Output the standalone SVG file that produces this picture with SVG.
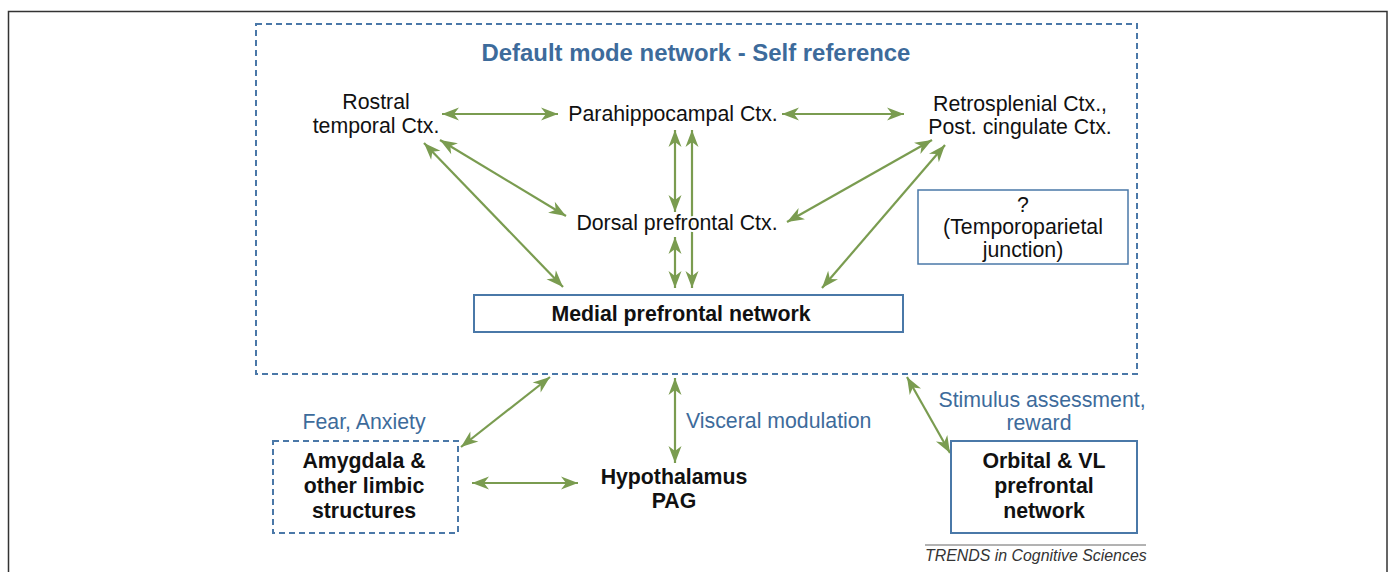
<svg xmlns="http://www.w3.org/2000/svg" width="1392" height="572" viewBox="0 0 1392 572">
<style>
  text { font-family: "Liberation Sans", Arial, Helvetica, sans-serif; font-size: 21.3px; fill: #111; }
  .c { text-anchor: middle; }
  .b { font-weight: bold; }
  .blue { fill: #3d6b9b; }
  .box { fill: #fff; stroke: #4a78a8; stroke-width: 2; }
  .dbox { fill: none; stroke: #4a78a8; stroke-width: 2; stroke-dasharray: 6 4; }
  .conn line { stroke: #7a9c50; stroke-width: 2.2; fill: none; marker-start: url(#ah); marker-end: url(#ah); }
  .conn line.plain { marker-start: none; marker-end: none; }
</style>
<defs>
  <marker id="ah" viewBox="-18 -8 19 16" refX="0" refY="0" markerWidth="19" markerHeight="16" markerUnits="userSpaceOnUse" orient="auto-start-reverse">
    <path d="M0,0 L-17,-6.5 L-12,0 L-17,6.5 Z" fill="#7a9c50"/>
  </marker>
</defs>
<rect x="0" y="0" width="1392" height="572" fill="#fff"/>
<rect x="8.5" y="11.5" width="1378.5" height="600" fill="none" stroke="#333" stroke-width="1.5"/>

<g id="dmn">
  <rect class="dbox" x="256" y="24" width="881" height="350"/>
  <text class="c b blue" x="696" y="61" style="font-size:23.9px">Default mode network - Self reference</text>
</g>

<g id="connectors" class="conn">
  <line x1="442" y1="114" x2="558" y2="114"/>
  <line x1="782" y1="114" x2="904" y2="114"/>
  <line x1="440" y1="140" x2="566" y2="216"/>
  <line x1="424" y1="143" x2="563" y2="287"/>
  <line x1="675" y1="130" x2="675" y2="212"/>
  <line x1="675" y1="237" x2="675" y2="288"/>
  <line class="plain" x1="692" y1="130" x2="692" y2="288" style="marker-start:url(#ah);marker-end:url(#ah)"/>
  <line x1="932" y1="140" x2="787" y2="222"/>
  <line x1="945" y1="145" x2="822" y2="288"/>
  <line x1="461" y1="447" x2="550" y2="377"/>
  <line x1="472" y1="483" x2="578" y2="483"/>
  <line x1="675" y1="378" x2="675" y2="463"/>
  <line x1="907" y1="377" x2="950" y2="453"/>
</g>

<g id="rostral">
  <text class="c" x="376" y="109">Rostral</text>
  <text class="c" x="376" y="133">temporal Ctx.</text>
</g>
<g id="parahippocampal">
  <text class="c" x="673" y="121">Parahippocampal Ctx.</text>
</g>
<g id="retrosplenial">
  <text class="c" x="1020" y="111">Retrosplenial Ctx.,</text>
  <text class="c" x="1020" y="134">Post. cingulate Ctx.</text>
</g>
<g id="dorsal">
  <text class="c" x="677" y="230" stroke="#fff" stroke-width="4" paint-order="stroke">Dorsal prefrontal Ctx.</text>
</g>
<g id="tpj">
  <rect class="box" x="918" y="190" width="210" height="74" style="stroke-width:1.5"/>
  <text class="c" x="1023" y="212">?</text>
  <text class="c" x="1023" y="234">(Temporoparietal</text>
  <text class="c" x="1023" y="257">junction)</text>
</g>
<g id="medial">
  <rect class="box" x="474" y="295" width="429" height="37"/>
  <text class="c b" x="681" y="321">Medial prefrontal network</text>
</g>
<g id="amygdala">
  <text class="c blue" x="364" y="429">Fear, Anxiety</text>
  <rect class="dbox" x="273" y="441" width="185" height="92"/>
  <text class="c b" x="364" y="468">Amygdala &amp;</text>
  <text class="c b" x="364" y="493">other limbic</text>
  <text class="c b" x="364" y="518">structures</text>
</g>
<g id="hypothalamus">
  <text class="blue" x="686" y="428">Visceral modulation</text>
  <text class="c b" x="674" y="484">Hypothalamus</text>
  <text class="c b" x="674" y="508">PAG</text>
</g>
<g id="orbital">
  <text class="c blue" x="1042" y="407">Stimulus assessment,</text>
  <text class="c blue" x="1039" y="430">reward</text>
  <rect class="box" x="951" y="441" width="186" height="92"/>
  <text class="c b" x="1044" y="468">Orbital &amp; VL</text>
  <text class="c b" x="1044" y="493">prefrontal</text>
  <text class="c b" x="1044" y="518">network</text>
</g>
<g id="credit">
  <line x1="925" y1="545" x2="1146" y2="545" stroke="#666" stroke-width="1"/>
  <text x="925" y="561" style="font-size:15.9px;font-style:italic;fill:#333">TRENDS in Cognitive Sciences</text>
</g>
</svg>
